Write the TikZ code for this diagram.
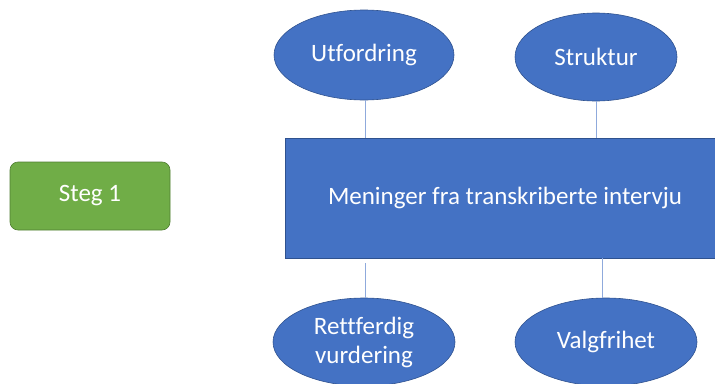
\documentclass[tikz,border=0pt]{standalone}
\usepackage{fontspec}
\setmainfont{Carlito}[Ligatures=NoCommon]
\usetikzlibrary{shapes.geometric}
\definecolor{boxblue}{HTML}{4472C4}
\definecolor{blueedge}{HTML}{2F528F}
\definecolor{linkblue}{HTML}{8FAADC}
\definecolor{stepgreen}{HTML}{70AD47}
\definecolor{greenedge}{HTML}{507E32}
\tikzset{
  label font/.style={font=\fontsize{25}{29}\selectfont},
  topic/.style={ellipse, fill=boxblue, draw=blueedge, line width=0.6pt,
    text=white, label font, align=center, inner sep=0pt},
  mainbox/.style={rectangle, fill=boxblue, draw=blueedge, line width=0.6pt,
    text=white, label font, inner sep=0pt},
  stepbox/.style={rectangle, rounded corners=8pt, fill=stepgreen, draw=greenedge,
    line width=0.6pt, text=white, label font, inner sep=0pt},
  link/.style={draw=linkblue, line width=0.8pt}
}
\begin{document}
\begin{tikzpicture}[x=1pt, y=-1pt]
  \useasboundingbox (0,0) rectangle (715,383);
  % central box
  \node[mainbox, minimum width=432pt, minimum height=120pt] (m) at (501,198) {};
  \node[text=white, label font] (mt) at (505,198) {Meninger fra transkriberte intervju};
  % step label
  \node[stepbox, minimum width=160pt, minimum height=68pt] (s) at (90,196) {Steg 1};
  % topics above
  \node[topic, minimum width=180pt, minimum height=90pt] (u) at (364,55) {Utfordring};
  \node[topic, minimum width=162pt, minimum height=88pt] (k) at (596,57) {Struktur};
  % topics below
  \node[topic, minimum width=182pt, minimum height=88pt] (r) at (364,342) {Rettferdig\\vurdering};
  \node[topic, minimum width=182pt, minimum height=88pt] (v) at (606,342) {Valgfrihet};
  % connectors
  \coordinate (rt) at (365,263);
  \draw[link] (u.south -| 365,0) -- (m.north -| 365,0);
  \draw[link] (k.south) -- (m.north -| k.south);
  \draw[link] (rt) -- (r.north -| rt);
  \draw[link] (m.south -| 602,0) -- (v.north -| 602,0);
\end{tikzpicture}
\end{document}
